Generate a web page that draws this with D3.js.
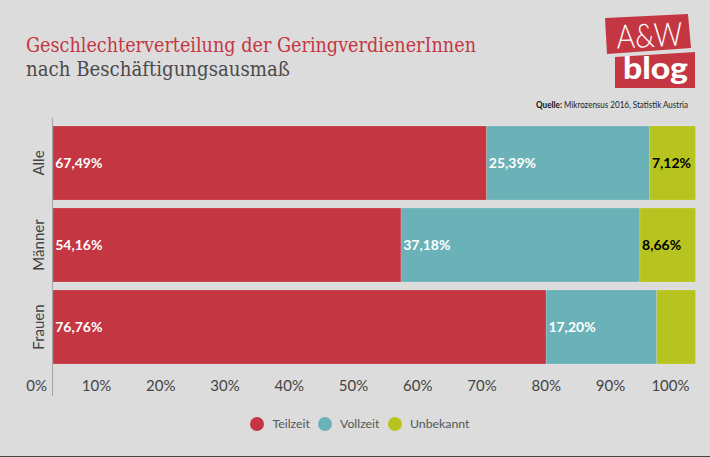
<!DOCTYPE html>
<html><head><meta charset="utf-8">
<script src="https://cdn.jsdelivr.net/npm/d3@7"></script>
<style>html,body{margin:0;padding:0;background:#dcdcdc}svg{display:block}</style>
</head><body><svg id="c" width="710" height="457"></svg>
<script>
const categories = ["Alle","Männer","Frauen"];
const seriesNames = ["Teilzeit","Vollzeit","Unbekannt"];
const teilzeit = [67.49,54.16,76.76];
const vollzeit = [25.39,37.18,17.20];
const unbekannt = [7.12,8.66,6.04];
const hiddenLabels = [[false,false,false],[false,false,false],[false,false,true]];
const colors = ["#c43742","#6ab2b7","#b7c41f"];
const labelColors = ["#fff","#fff","#000"];
const tickValues = [0,10,20,30,40,50,60,70,80,90,100];

const svg = d3.select("#c");
const body = "'Lato','Open Sans',sans-serif";
const slab = "'DejaVu Serif Condensed','DejaVu Serif',serif";
const x = d3.scaleLinear().domain([0,100]).range([53,695.5]);
const y = d3.scaleBand().domain(categories).range([122,368]).paddingInner(8/82).paddingOuter(4/82);
const rows = categories.map((c,i)=>({cat:c,Teilzeit:teilzeit[i],Vollzeit:vollzeit[i],Unbekannt:unbekannt[i]}));
const stack = d3.stack().keys(seriesNames)(rows);

svg.append("rect").attr("width",710).attr("height",457).attr("fill","#dcdcdc");
svg.append("line").attr("x1",0).attr("x2",710).attr("y1",456.5).attr("y2",456.5).attr("stroke","#444");

svg.append("text").attr("x",26).attr("y",52).attr("font-family",slab).attr("font-size",20).attr("textLength",450).attr("lengthAdjust","spacingAndGlyphs").attr("fill","#c43742").text("Geschlechterverteilung der GeringverdienerInnen");
svg.append("text").attr("x",26).attr("y",76).attr("font-family",slab).attr("font-size",20.5).attr("textLength",264).attr("lengthAdjust","spacingAndGlyphs").attr("fill","#4a4a4a").text("nach Beschäftigungsausmaß");

// logo
const logo = svg.append("g");
logo.append("path").attr("d","M605 18L688 14L691 48L607 54Z").attr("fill","#c43742");
logo.append("path").attr("d","M615 57L695 52L695 88L615 88Z").attr("fill","#c43742");
logo.append("text").attr("x",617).attr("y",48.5).attr("font-family",body).attr("font-weight",300).attr("font-size",33).attr("textLength",66).attr("lengthAdjust","spacingAndGlyphs").attr("fill","#fff").attr("transform","rotate(-2.5 617 48.5)").text("A&W");
logo.append("text").attr("x",623).attr("y",79).attr("font-family",body).attr("font-weight",900).attr("font-size",30).attr("textLength",65).attr("lengthAdjust","spacingAndGlyphs").attr("fill","#fff").text("blog");

svg.append("text").attr("x",536).attr("y",107.5).attr("font-family",body).attr("font-weight",700).attr("font-size",9.5).attr("textLength",26).attr("lengthAdjust","spacingAndGlyphs").attr("fill","#111").text("Quelle:");
svg.append("text").attr("x",564).attr("y",107.5).attr("font-family",body).attr("font-size",9.5).attr("textLength",124).attr("lengthAdjust","spacingAndGlyphs").attr("fill","#222").text("Mikrozensus 2016, Statistik Austria");

// bars
const groups = svg.selectAll("g.s").data(stack).join("g").attr("class","s").attr("fill",(d,i)=>colors[i]);
groups.selectAll("rect").data(d=>d).join("rect")
  .attr("x",d=>x(d[0])).attr("y",d=>y(d.data.cat))
  .attr("width",d=>x(d[1])-x(d[0])).attr("height",y.bandwidth())
  .attr("stroke","#fff").attr("stroke-opacity",0.18).attr("stroke-width",0.8);
stack.forEach((s,si)=>{
  s.forEach((d,ci)=>{
    if(hiddenLabels[ci][si]) return;
    svg.append("text").attr("x",x(d[0])+2.2).attr("y",y(d.data.cat)+y.bandwidth()/2+5)
      .attr("font-family",body).attr("font-weight",700).attr("font-size",14)
      .attr("fill",labelColors[si]).text((d[1]-d[0]).toFixed(2).replace(".",",")+"%");
  });
});

// axes
svg.append("line").attr("x1",52.5).attr("x2",52.5).attr("y1",118).attr("y2",396).attr("stroke","#a5a5a5");
svg.selectAll("text.tick").data(tickValues).join("text").attr("class","tick")
  .attr("x",d=>x(d)-6).attr("y",391).attr("text-anchor","end")
  .attr("font-family",body).attr("font-size",15).attr("fill","#444").text(d=>d+"%");
svg.selectAll("text.cat").data(categories).join("text").attr("class","cat")
  .attr("transform",d=>`translate(44,${y(d)+y.bandwidth()/2}) rotate(-90)`).attr("text-anchor","middle")
  .attr("font-family",body).attr("font-size",15).attr("fill","#444").text(d=>d);

// legend
const legendX = [257,325,395], legendLabelX=[272.5,340,410];
seriesNames.forEach((n,i)=>{
  svg.append("circle").attr("cx",legendX[i]).attr("cy",424).attr("r",7).attr("fill",colors[i]);
  svg.append("text").attr("x",legendLabelX[i]).attr("y",428).attr("font-family",body).attr("font-size",12.3).attr("fill","#555").text(n);
});
</script></body></html>
